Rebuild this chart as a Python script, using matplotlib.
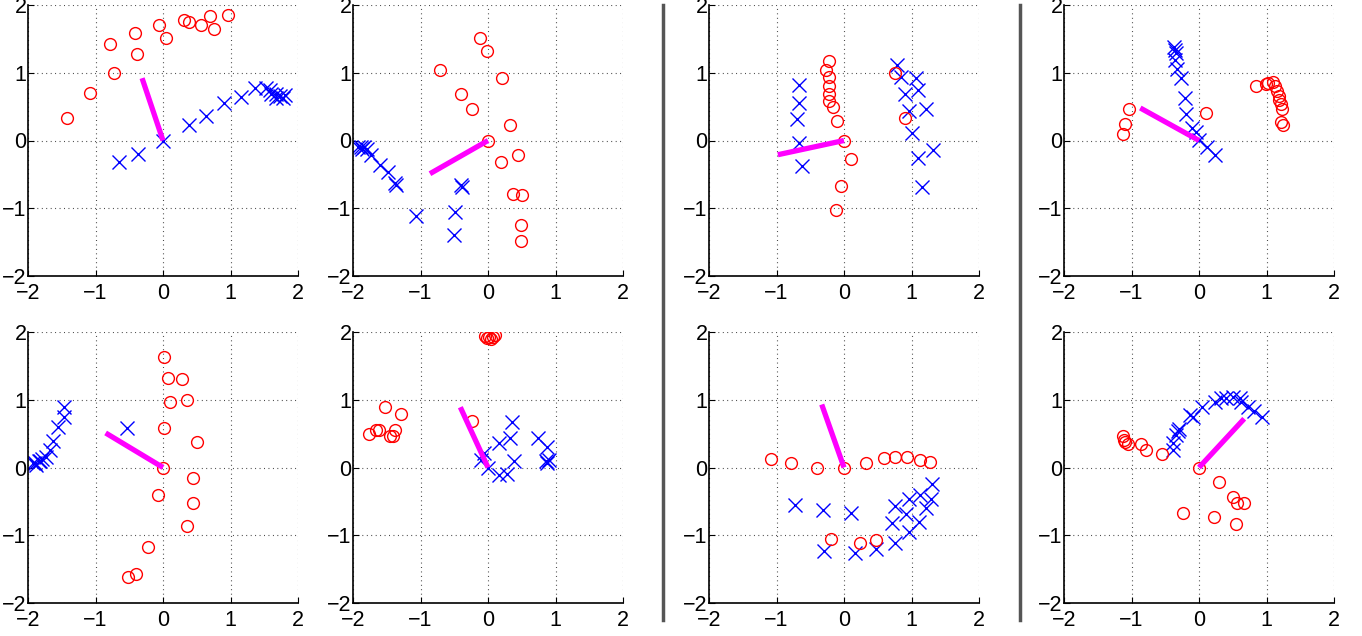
import matplotlib
matplotlib.use("Agg")
import matplotlib.pyplot as plt
from matplotlib.lines import Line2D
import numpy as np

plt.rcParams['font.family'] = ['Liberation Sans', 'DejaVu Sans']

# ---- data, one block per panel ----
# panel 1 (top row, first)
p1_red_x = [-1.42, -1.08, -0.73, -0.79, -0.41, -0.39, -0.06, 0.04, 0.31, 0.39, 0.56, 0.69, 0.75, 0.96]
p1_red_y = [0.33, 0.70, 1.00, 1.43, 1.59, 1.27, 1.70, 1.51, 1.78, 1.75, 1.70, 1.84, 1.65, 1.85]
p1_blue_x = [-0.65, -0.37, 0.00, 0.38, 0.63, 0.91, 1.16, 1.37, 1.52, 1.59, 1.67, 1.73, 1.81, 1.68, 1.78, 1.60]
p1_blue_y = [-0.32, -0.20, 0.00, 0.23, 0.36, 0.56, 0.64, 0.78, 0.78, 0.75, 0.69, 0.65, 0.67, 0.62, 0.63, 0.69]
p1_dir = (-0.31, 0.92)

# panel 2
p2_red_x = [-0.12, -0.02, -0.71, 0.21, -0.40, -0.24, 0.33, 0.00, 0.45, 0.19, 0.37, 0.51, 0.49, 0.49]
p2_red_y = [1.51, 1.32, 1.04, 0.92, 0.69, 0.47, 0.23, 0.00, -0.21, -0.32, -0.79, -0.81, -1.24, -1.49]
p2_blue_x = [-1.93, -1.88, -1.83, -1.80, -1.86, -1.73, -1.60, -1.48, -1.38, -1.36, -0.40, -0.39, -1.07, -0.49, -0.51]
p2_blue_y = [-0.09, -0.10, -0.09, -0.13, -0.12, -0.21, -0.36, -0.47, -0.62, -0.66, -0.66, -0.68, -1.12, -1.05, -1.39]
p2_dir = (-0.86, -0.49)

# panel 3
p3_red_x = [-0.22, -0.27, -0.22, -0.22, -0.22, -0.22, -0.16, -0.10, 0.00, 0.11, -0.04, -0.12, 0.76, 0.90]
p3_red_y = [1.18, 1.04, 0.94, 0.80, 0.69, 0.59, 0.49, 0.29, 0.00, -0.28, -0.67, -1.02, 1.00, 0.33]
p3_blue_x = [-0.66, -0.67, -0.70, -0.67, -0.62, 0.79, 0.85, 0.91, 0.96, 1.01, 1.07, 1.10, 1.21, 1.32, 1.09, 1.16]
p3_blue_y = [0.82, 0.56, 0.31, -0.03, -0.38, 1.11, 0.93, 0.69, 0.44, 0.11, 0.92, 0.74, 0.47, -0.14, -0.26, -0.68]
p3_dir = (-0.98, -0.21)

# panel 4
p4_red_x = [-1.13, -1.10, -1.03, 0.10, 0.84, 0.99, 1.02, 1.09, 1.12, 1.15, 1.18, 1.19, 1.21, 1.23, 1.21, 1.25]
p4_red_y = [0.09, 0.25, 0.47, 0.41, 0.80, 0.84, 0.85, 0.87, 0.81, 0.73, 0.65, 0.60, 0.54, 0.46, 0.28, 0.23]
p4_blue_x = [-0.37, -0.35, -0.34, -0.35, -0.32, -0.27, -0.21, -0.19, -0.11, -0.04, 0.00, 0.12, 0.23]
p4_blue_y = [1.38, 1.33, 1.29, 1.19, 1.05, 0.92, 0.63, 0.39, 0.19, 0.13, 0.01, -0.10, -0.21]
p4_dir = (-0.87, 0.48)

# panel 5 (bottom row, first)
p5_red_x = [0.01, 0.08, 0.28, 0.11, 0.35, 0.01, 0.51, 0.00, 0.44, 0.44, 0.35, -0.08, -0.22, -0.40, -0.52]
p5_red_y = [1.63, 1.32, 1.30, 0.96, 0.99, 0.59, 0.38, 0.00, -0.16, -0.53, -0.86, -0.41, -1.18, -1.57, -1.62]
p5_blue_x = [-1.46, -1.47, -1.55, -1.63, -1.68, -1.74, -1.79, -1.84, -1.89, -1.93, -1.88, -1.82, -0.54]
p5_blue_y = [0.90, 0.74, 0.60, 0.39, 0.26, 0.16, 0.12, 0.09, 0.07, 0.06, 0.04, 0.10, 0.59]
p5_dir = (-0.85, 0.51)

# panel 6
p6_red_x = [-0.05, 0.01, 0.05, 0.11, 0.07, -0.02, -1.77, -1.66, -1.61, -1.52, -1.45, -1.41, -1.38, -1.29, -0.24]
p6_red_y = [1.94, 1.93, 1.90, 1.95, 1.93, 1.91, 0.49, 0.56, 0.56, 0.90, 0.47, 0.47, 0.55, 0.79, 0.69]
p6_blue_x = [0.36, 0.33, 0.17, -0.11, -0.06, 0.00, 0.16, 0.28, 0.39, 0.74, 0.88, 0.86, 0.90, 0.88]
p6_blue_y = [0.67, 0.44, 0.36, 0.11, 0.22, -0.01, -0.11, -0.09, 0.09, 0.44, 0.30, 0.09, 0.11, 0.06]
p6_dir = (-0.41, 0.89)

# panel 7
p7_red_x = [-1.08, -0.79, -0.40, 0.00, 0.33, 0.59, 0.76, 0.93, 1.13, 1.27, -0.20, 0.23, 0.47]
p7_red_y = [0.12, 0.06, 0.00, 0.00, 0.06, 0.14, 0.16, 0.15, 0.11, 0.08, -1.05, -1.11, -1.07]
p7_blue_x = [-0.73, -0.31, 0.10, -0.30, 0.16, 0.47, 0.76, 0.71, 0.75, 0.92, 0.97, 0.96, 1.11, 1.13, 1.22, 1.29, 1.31]
p7_blue_y = [-0.55, -0.63, -0.67, -1.23, -1.26, -1.20, -1.11, -0.82, -0.57, -0.68, -0.47, -0.95, -0.81, -0.41, -0.60, -0.46, -0.24]
p7_dir = (-0.33, 0.93)

# panel 8
p8_red_x = [-1.13, -1.11, -1.09, -1.05, -0.86, -0.78, -0.55, 0.00, 0.30, -0.24, 0.22, 0.51, 0.56, 0.67, 0.55]
p8_red_y = [0.46, 0.41, 0.38, 0.35, 0.34, 0.26, 0.20, 0.00, -0.21, -0.67, -0.73, -0.43, -0.53, -0.53, -0.84]
p8_blue_x = [-0.38, -0.38, -0.34, -0.31, -0.29, -0.13, -0.09, 0.05, 0.23, 0.33, 0.40, 0.50, 0.61, 0.62, 0.72, 0.82, 0.94]
p8_blue_y = [0.26, 0.36, 0.48, 0.54, 0.57, 0.78, 0.75, 0.89, 0.97, 1.02, 1.02, 1.04, 1.02, 0.97, 0.89, 0.83, 0.75]
p8_dir = (0.67, 0.72)

panels = [
    (p1_red_x, p1_red_y, p1_blue_x, p1_blue_y, p1_dir),
    (p2_red_x, p2_red_y, p2_blue_x, p2_blue_y, p2_dir),
    (p3_red_x, p3_red_y, p3_blue_x, p3_blue_y, p3_dir),
    (p4_red_x, p4_red_y, p4_blue_x, p4_blue_y, p4_dir),
    (p5_red_x, p5_red_y, p5_blue_x, p5_blue_y, p5_dir),
    (p6_red_x, p6_red_y, p6_blue_x, p6_blue_y, p6_dir),
    (p7_red_x, p7_red_y, p7_blue_x, p7_blue_y, p7_dir),
    (p8_red_x, p8_red_y, p8_blue_x, p8_blue_y, p8_dir),
]

ticks = [-2, -1, 0, 1, 2]

# ---- layout (figure fractions) ----
W, H = 1362, 636
fig = plt.figure(figsize=(W / 100, H / 100), dpi=100)
lefts = [28, 353, 709, 1064]
bottoms = [276, 603]
ax_w, ax_h = 270, 271

for i, (rx, ry, bx, by, d) in enumerate(panels):
    row, col = divmod(i, 4)
    ax = fig.add_axes([lefts[col] / W, 1 - bottoms[row] / H, ax_w / W, ax_h / H])
    ax.plot(bx, by, 'x', color='blue', ms=10, mew=1)
    ax.plot(rx, ry, 'o', color='red', mfc='none', ms=8.5, mew=1)
    ax.plot([0, d[0]], [0, d[1]], color='magenta', lw=3.8, solid_capstyle='butt')
    ax.set_xlim(-2, 2)
    ax.set_ylim(-2, 2)
    ax.set_xticks(ticks)
    ax.set_yticks(ticks)
    ax.grid(True, color='#333333', linestyle=(0, (0.8, 3.2)), linewidth=0.8)
    ax.spines['top'].set_visible(False)
    ax.spines['right'].set_visible(False)
    ax.spines['left'].set_linewidth(1.2)
    ax.spines['bottom'].set_linewidth(1.2)
    ax.tick_params(direction='in', length=4, labelsize=15.5)
    ax.tick_params(axis='x', pad=5)
    ax.tick_params(axis='y', pad=1)

# gray separators between column groups
for xs in [663, 1020]:
    fig.add_artist(Line2D([xs / W, xs / W], [1 - 5 / H, 1 - 620 / H],
                          color='#555555', lw=2.5, transform=fig.transFigure))

fig.savefig('out.png', dpi=100)
